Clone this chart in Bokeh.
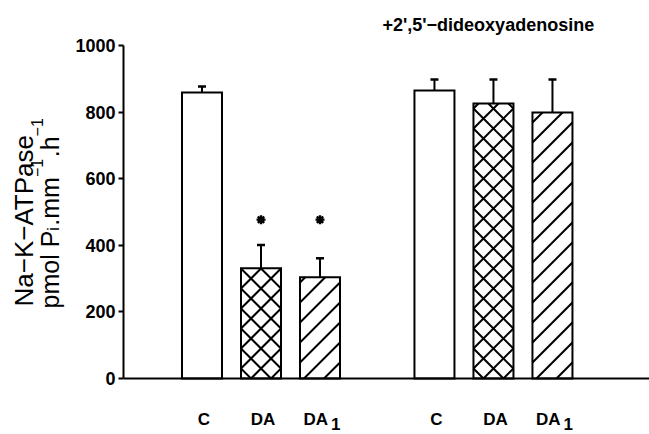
import math
from bokeh.plotting import figure
from bokeh.models import (Range1d, ColumnDataSource, FixedTicker, Whisker,
                          TeeHead, Label, LinearAxis)
from bokeh.embed import file_html
from bokeh.resources import INLINE

# ---------------- data ----------------
categories = ["C", "DA", "DA1"]
group_titles = ["", "+2',5'\u2212dideoxyadenosine"]
ctrl_mean = [859, 331, 304]
ctrl_sem = [18, 70, 57]
ddA_mean = [865, 826, 799]
ddA_sem = [33, 72, 99]
ctrl_signif = [False, True, True]
ddA_signif = [False, False, False]
y_ticks = [0, 200, 400, 600, 800, 1000]
hatches = ["", "x", "/"]

# ---------------- layout (figure pixels, y from top) ----------------
FONT = "Liberation Sans"
W, H = 649, 434
AXIS_X = 123          # y-axis position
Y0_PX, Y1000_PX = 378, 45
PX_X = 59.0           # pixels per category step
FIRST_BAR_PX = 201.5
GROUP_GAP = 0.94
BAR_PX = 40
HATCH_P = 20          # hatch period in px
PX_Y = (Y0_PX - Y1000_PX) / 1000.0
BASE_OFF = 5          # renderer baseline offset compensation

x_start = 1 - FIRST_BAR_PX / PX_X
x_end = x_start + W / PX_X


def xd(px):
    return x_start + px / PX_X


def yd(py):
    return (Y0_PX - py) / PX_Y


def pos(g, i):
    return 1 + i + g * (len(categories) + GROUP_GAP)


xs, tops, sems, hat = [], [], [], []
for g, (means, errs) in enumerate([(ctrl_mean, ctrl_sem), (ddA_mean, ddA_sem)]):
    for i in range(len(categories)):
        xs.append(pos(g, i))
        tops.append(means[i])
        sems.append(errs[i])
        hat.append(hatches[i])

BAR_W = BAR_PX / PX_X
src = ColumnDataSource(dict(x=xs, top=tops,
                            upper=[t + s for t, s in zip(tops, sems)]))

p = figure(width=W, height=H, output_backend="svg", toolbar_location=None,
           x_range=Range1d(x_start, x_end),
           y_range=Range1d(yd(H), yd(0)),
           min_border=0, x_axis_location=None, y_axis_location=None)
p.outline_line_color = None
p.grid.visible = False
p.background_fill_color = "white"
p.border_fill_color = "white"

# y axis
ya = LinearAxis(fixed_location=xd(AXIS_X), bounds=(0, 1000),
                ticker=FixedTicker(ticks=y_ticks, minor_ticks=[]))
ya.axis_line_width = 2
ya.major_tick_line_width = 2
ya.major_tick_out = 5
ya.major_tick_in = 0
ya.minor_tick_line_color = None
ya.major_label_standoff = 3
ya.major_label_text_font = FONT
ya.major_label_text_font_style = "bold"
ya.major_label_text_font_size = "18px"
ya.major_label_text_color = "black"
p.add_layout(ya, "left")

# x axis (line only)
xa = LinearAxis(fixed_location=0, bounds=(xd(AXIS_X), x_end),
                ticker=FixedTicker(ticks=[], minor_ticks=[]))
xa.axis_line_width = 2
xa.major_tick_line_color = None
xa.minor_tick_line_color = None
xa.major_label_text_font_size = "0px"
p.add_layout(xa, "below")

# bar fills
p.vbar(x="x", top="top", width=BAR_W, source=src, fill_color="white",
       line_color=None)

# hatching computed from bar geometry (45 degree lines)
hx0, hy0, hx1, hy1 = [], [], [], []
for x, top, h in zip(xs, tops, hat):
    if not h:
        continue
    w = BAR_PX
    hh = top * PX_Y
    left = x - BAR_W / 2
    dirs = [1] if h == "/" else [1, -1]
    for d in dirs:
        phase = 16 if h == "/" else 10
        k = -int((w + hh) / HATCH_P) - 2
        while True:
            b = phase + k * HATCH_P
            if b > hh + w + HATCH_P:
                break
            k += 1
            if d == 1:      # y = x + b
                a0, a1 = max(0, -b), min(w, hh - b)
            else:           # y = -x + b
                a0, a1 = max(0, b - hh), min(w, b)
            if a1 - a0 <= 0.5:
                continue
            hx0.append(left + a0 / PX_X)
            hx1.append(left + a1 / PX_X)
            hy0.append((d * a0 + b) / PX_Y)
            hy1.append((d * a1 + b) / PX_Y)
p.segment(hx0, hy0, hx1, hy1, line_color="black", line_width=2)

# bar outlines
p.vbar(x="x", top="top", width=BAR_W, source=src, fill_color=None,
       line_color="black", line_width=2, line_join="miter")

# error bars (upper only)
p.add_layout(Whisker(base="x", upper="upper", lower="top", source=src,
                     lower_head=None,
                     upper_head=TeeHead(size=8, line_width=2.5, line_color="black"),
                     line_width=2, line_color="black"))

# significance markers
sig_x, sig_y = [], []
for g, (means, errs, sig) in enumerate([(ctrl_mean, ctrl_sem, ctrl_signif),
                                        (ddA_mean, ddA_sem, ddA_signif)]):
    tops_sig = [m + e for m, e, s in zip(means, errs, sig) if s]
    if tops_sig:
        level = max(tops_sig) + 76
        for i, s in enumerate(sig):
            if s:
                sig_x.append(pos(g, i))
                sig_y.append(level)
p.scatter(sig_x, sig_y, marker="asterisk", size=9, line_width=2.4,
          line_color="black")


def label(**kw):
    kw.setdefault("text_font", FONT)
    kw.setdefault("text_color", "black")
    kw.setdefault("text_baseline", "alphabetic")
    p.add_layout(Label(**kw))


# category labels
LBL_BASE = 424 - BASE_OFF
for g in range(2):
    for i, c in enumerate(categories):
        cx = pos(g, i)
        if c.endswith("1"):
            main = c[:-1]
            w_main = 2 * 0.722 * 17
            w_sub = 0.556 * 17
            total = w_main + 3 + w_sub
            left = cx - total / 2 / PX_X + 2 / PX_X
            label(x=left, y=yd(LBL_BASE), text=main, text_font_style="bold",
                  text_font_size="17px", text_align="left")
            label(x=left + (w_main + 3) / PX_X, y=yd(LBL_BASE + 4), text="1",
                  text_font_style="bold", text_font_size="17px",
                  text_align="left")
        else:
            label(x=cx + 2 / PX_X, y=yd(LBL_BASE), text=c,
                  text_font_style="bold", text_font_size="17px",
                  text_align="center")

# group title
label(x=xd(382), y=yd(29 - BASE_OFF), text=group_titles[1],
      text_font_style="bold", text_font_size="18px", text_align="left")

# y-axis title (rotated, with sub/superscripts)
WID = {"p": .556, "m": .833, "o": .556, "l": .222, " ": .278, "P": .667,
       "i": .222, ".": .278, "h": .556, "\u2212": .584, "1": .556}


def tw(s, size):
    return sum(WID.get(ch, .556) for ch in s) * size


ang = math.pi / 2
MAIN, SMALL = 25, 16
start_py = 308
label(x=xd(23), y=yd(start_py - 2), text="Na\u2212K\u2212ATPase", angle=ang,
      text_font_size="26px", text_align="left")

base_px = 49
pieces = [("pmol P", MAIN, 0), ("i", SMALL, 4), (".mm", MAIN, 0),
          ("\u22121", SMALL, -13), (".h", MAIN, 0), ("\u22121", SMALL, -13)]
cur = start_py
for txt, size, shift in pieces:
    label(x=xd(base_px + shift), y=yd(cur), text=txt, angle=ang,
          text_font_size=f"{size}px", text_align="left")
    cur -= tw(txt, size) + (1.5 if size == SMALL else 0)

open("out.html", "w").write(file_html(p, INLINE))
